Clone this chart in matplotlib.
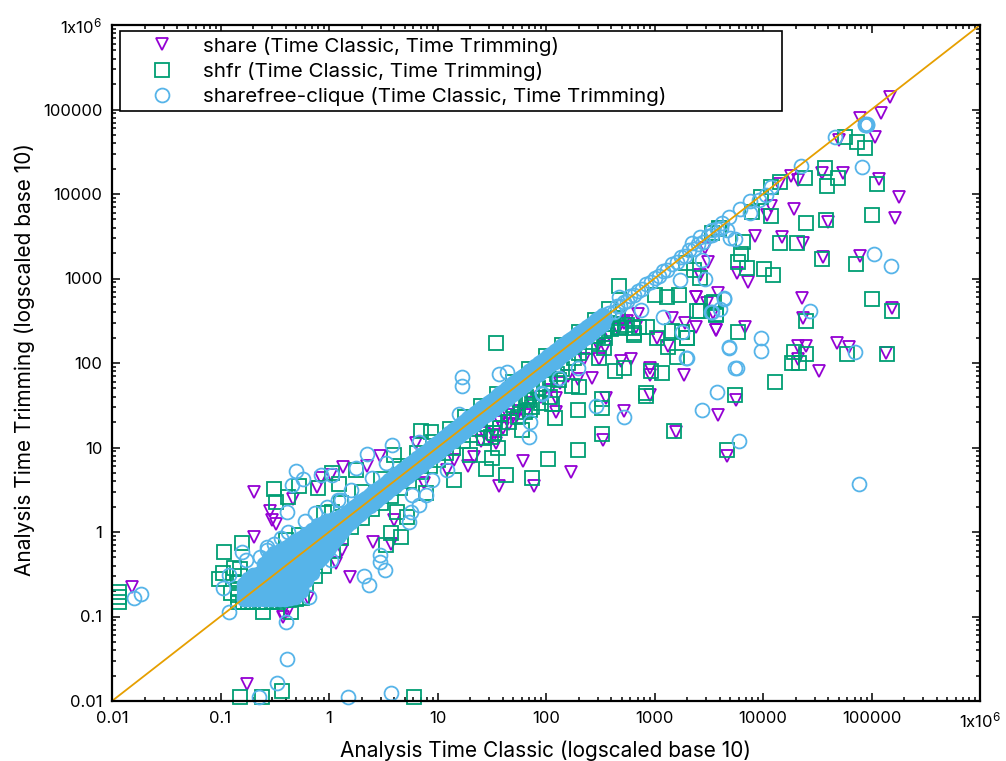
import matplotlib
matplotlib.use('Agg')
import matplotlib.pyplot as plt
from matplotlib.patches import Rectangle
from matplotlib.ticker import LogLocator, NullFormatter

plt.rcParams['font.family'] = ['Inter', 'DejaVu Sans']
plt.rcParams['mathtext.default'] = 'regular'

# Values
tick_values = [0.01, 0.1, 1, 10, 100, 1000, 10000, 100000, 1000000]
tick_labels = ['0.01', '0.1', '1', '10', '100', '1000', '10000', '100000', '1x10$^{6}$']
diagonal = [0.01, 1000000]

share_classic = [
    0.0153, 0.175, 0.204, 0.286, 0.30, 0.325, 0.204, 0.466, 0.775, 0.84, 1.04, 1.35,
    2.24, 2.95, 6.3, 1.56, 1.16, 0.64, 0.37, 2.54, 3.7, 3.97, 7.5, 1.32, 0.38, 0.42,
    36.9, 77.6, 170, 61, 334, 1580, 4630, 3840, 5600, 524, 900, 355, 265, 197, 124, 124,
    900, 900, 1860, 610, 490, 310, 224, 1060, 1340, 2410, 1900, 3660, 2410, 3840, 3070, 3450,
    1450, 520, 680, 350, 34.6, 29.7, 44.8, 21.6, 19, 12.2, 14.2, 40, 52, 25,
    148000, 122000, 78000, 108000, 50000, 34800, 55000, 21000, 18000, 13900, 117000, 181000,
    165000, 39400, 19200, 11800, 10900, 8400, 15100, 23300, 35400, 78000, 5700, 7300, 3100, 2950,
    2600, 2400, 23000, 155000, 23300, 6800, 3650, 48000, 62000, 21000, 25000, 21000, 33000, 135000,
    27, 33, 38, 46, 55, 64, 75, 90, 110, 135, 160, 300, 380, 460, 560, 700,
]
share_trimming = [
    0.224, 0.016, 2.97, 1.77, 1.39, 1.24, 0.87, 2.46, 3.4, 4.35, 4.7, 5.9,
    6.0, 7.9, 11.3, 0.29, 0.43, 0.165, 0.11, 0.76, 0.72, 1.39, 3.8, 0.61, 0.1, 0.115,
    3.5, 3.5, 5.1, 6.9, 12.3, 15.3, 8, 24, 36.6, 27, 41.8, 38.6, 66, 65, 38.6, 26,
    87.4, 72, 72, 112, 105, 112, 112, 200, 160, 267, 297, 245, 600, 670, 510, 390,
    340, 297, 267, 155, 11.3, 13.3, 24, 7.7, 6, 5.4, 7.1, 17, 22, 12,
    140000, 91000, 79000, 47000, 43700, 17700, 17700, 14700, 16200, 13200, 15000, 9300,
    5200, 4700, 6700, 7250, 5600, 3200, 3100, 2650, 1800, 1850, 1150, 905, 1570, 2300,
    1100, 600, 590, 445, 340, 267, 245, 172, 155, 160, 160, 112, 80, 132,
    15, 14, 20, 19, 27, 24, 34, 40, 48, 58, 70, 165, 220, 250, 310, 380,
]

shfr_classic = [
    0.0116, 0.0116, 0.0116, 0.108, 0.158, 0.097, 0.105, 0.133, 0.125, 0.247, 0.446, 0.151,
    0.24, 0.37, 6.1, 0.31, 0.325, 0.42, 0.53, 0.79, 1.24, 1.06, 1.77, 3.97, 7, 8.7,
    0.40, 0.53, 7.8, 4.2, 3.7, 3.35, 4.6, 5.2, 1.06,
    34.6, 14.2, 28, 42.7, 74, 104, 197, 325, 1520, 4630, 5540, 830,
    830, 325, 325, 197, 121, 114, 71, 70, 200, 172, 132, 430, 520, 925, 1170, 310,
    1610, 1340, 1060, 2000, 1450, 650, 650, 490, 860, 340, 350, 2600, 3660, 3500, 1670, 1000,
    1300, 470, 31, 60, 36, 20, 32,
    57000, 74000, 88000, 37000, 24600, 49000, 39000, 113000, 14300, 11800, 9500, 7900,
    11800, 25000, 38000, 100000, 6500, 14300, 20500, 34800, 72000, 6300, 5900, 7100, 10200, 12300,
    3400, 3900, 3950, 1950, 2300, 2600, 100000, 155000, 2450, 3400, 3650, 1790, 2000, 5900, 25000,
    19200, 24700, 18500, 21300, 59000, 140000, 13000,
]
shfr_trimming = [
    0.195, 0.17, 0.148, 0.58, 0.74, 0.278, 0.33, 0.375, 0.19, 0.113, 0.113, 0.0112,
    0.0112, 0.0132, 0.0112, 3.2, 2.26, 2.6, 3.5, 3.3, 3.7, 5, 5.4, 8.2, 15.7, 15.3,
    0.8, 0.92, 2.9, 1.73, 0.97, 0.7, 0.87, 1.5, 1.73,
    172, 4.1, 5.6, 4.7, 4.35, 7.3, 9.3, 14.5, 15.7, 9.3, 41.8, 40.7,
    44, 29.3, 37.6, 28, 22.3, 32.7, 28, 36.6, 52, 53, 63, 80, 87, 80, 76, 115,
    118, 155, 198, 198, 240, 228, 216, 262, 267, 150, 200, 410, 370, 530, 630, 640,
    600, 820, 13.3, 16, 10, 8.2, 7.5,
    47000, 41000, 35000, 20300, 15500, 15500, 12500, 13200, 13900, 12000, 9300, 6200,
    5500, 4500, 4900, 5700, 2700, 2650, 2650, 1700, 1480, 1950, 1570, 1320, 1300, 1100,
    3480, 4000, 3900, 1530, 1250, 1020, 570, 410, 410, 510, 380, 233, 198, 233, 315,
    135, 128, 100, 100, 128, 128, 59,
]

# the green edge showing around the dense part
shfr_band_classic = [
    0.145, 0.16, 0.18, 0.2, 0.23, 0.26, 0.3, 0.34, 0.38, 0.43, 0.5, 0.56, 0.145, 0.145, 0.145, 0.15, 0.15,
    0.62, 0.75, 0.9, 1.1, 1.3, 1.6, 2, 2.5, 3, 3.7, 4.5, 5.5, 7, 8.5, 10, 12, 14, 17, 20, 24, 28, 33, 38,
    44, 50, 57, 65, 75, 85, 95, 110, 125, 140, 160, 180, 200, 230, 260, 300, 340, 400, 460,
    0.9, 1.3, 2, 3, 4.5, 6.5, 9, 13, 18, 25, 35, 50, 70, 100, 140, 200, 280, 380,
    27, 33, 38, 46, 55, 64, 75, 90, 110, 280, 340, 400, 480, 560, 640, 720,
]
shfr_band_trimming = [
    0.15, 0.15, 0.15, 0.15, 0.15, 0.15, 0.15, 0.15, 0.155, 0.155, 0.16, 0.165, 0.18, 0.21, 0.25, 0.3, 0.36,
    0.24, 0.3, 0.4, 0.6, 0.85, 1.15, 1.45, 1.85, 2.2, 2.7, 3.3, 4, 5.1, 6.1, 7.2, 8.6, 10, 12, 14, 16.5, 19, 22, 25,
    29, 32, 36, 40, 46, 50, 56, 64, 75, 85, 100, 115, 130, 155, 175, 210, 240, 290, 340,
    1.7, 2.2, 3, 4.2, 6, 8.5, 11.5, 16.5, 23, 31, 43, 60, 85, 120, 165, 235, 320, 430,
    13, 15, 17, 20, 23, 26, 30, 34, 40, 210, 240, 250, 265, 280, 260, 270,
]

clique_classic = [
    0.016, 0.0185, 0.12, 0.41, 0.40, 0.33, 0.226, 1.5, 3.7, 2.1, 2.34, 2.95, 2.95, 3.3, 1.04, 0.65,
    0.5, 0.575, 0.455, 0.41, 0.84, 1.06, 1.77, 2.24, 3.8, 3.35, 1.29, 6.8, 0.158, 0.172, 0.12, 0.105,
    0.268, 5.8, 6.8, 5.7, 5.5, 7.8, 8.9,
    16.8, 16.8, 36.9, 43.7, 197, 132, 92, 92, 71, 70, 290, 524, 2000, 1200, 750, 1790, 3390, 4340,
    4860, 5540, 3750, 2740, 6020, 12.2, 15.8, 470,
    88000, 90000, 89000, 91000, 87000, 46000, 22300, 81700, 11800, 10600, 7600, 9100, 6200, 7600,
    4900, 4200, 4650, 5500, 5000, 3400, 2600, 2200, 2750, 2900, 1700, 105000, 150000, 4340, 4000,
    3300, 27000, 9500, 9500, 4860, 5700, 70500, 1950, 76700,
    350, 380, 420, 450, 480, 520, 560, 600, 650, 700, 770, 840, 920, 1000, 1100, 1200, 1300, 1450,
    1600, 1750, 1900, 2100, 2300, 2500, 2800, 3100, 3400, 3800, 4100,
    0.23, 0.27, 0.31, 0.36, 0.42, 0.6, 0.75, 0.95, 1.2, 1.6, 2.5,
]
clique_trimming = [
    0.166, 0.185, 0.113, 0.031, 0.086, 0.0163, 0.0112, 0.0112, 0.0124, 0.30, 0.236, 0.535, 0.44, 0.355, 0.47, 0.17,
    5.27, 4.24, 3.6, 1.73, 4.7, 4.7, 5.7, 8.4, 10.7, 6.6, 2.4, 11.6, 0.58, 0.47, 0.31, 0.22,
    0.66, 2.75, 2.09, 1.73, 1.31, 2.75, 4.1,
    68, 53, 74, 78, 87, 66, 43, 44, 20, 13.3, 31, 23, 114, 350, 424, 233, 402, 590,
    150, 87, 45, 28, 12, 5.4, 25, 600,
    66000, 68000, 65000, 66000, 68000, 47000, 21500, 20900, 12000, 9800, 8300, 8500, 6600, 6000,
    5300, 4500, 3750, 2900, 3000, 3750, 3100, 2600, 1650, 1000, 960, 1950, 1400, 570, 430,
    400, 410, 198, 139, 155, 87, 135, 114, 3.7,
    340, 390, 400, 470, 470, 530, 540, 620, 630, 720, 750, 860, 900, 1020, 1070, 1220, 1270, 1480,
    1550, 1790, 1850, 2150, 2250, 2560, 2720, 3170, 3300, 3900, 4000,
    0.5, 0.62, 0.72, 0.85, 1, 1.35, 1.7, 2, 2.4, 3.1, 4.4,
]

# the solid blue part, a column at a time at the low end
clique_blob_classic = [
    0.165, 0.165, 0.165, 0.165,
    0.18, 0.18, 0.18, 0.18, 0.18,
    0.2, 0.2, 0.2, 0.2, 0.2, 0.2,
    0.22, 0.22, 0.22, 0.22, 0.22, 0.22,
    0.25, 0.25, 0.25, 0.25, 0.25, 0.25, 0.25, 0.25,
    0.28, 0.28, 0.28, 0.28, 0.28, 0.28, 0.28, 0.28, 0.28,
    0.31, 0.31, 0.31, 0.31, 0.31, 0.31, 0.31, 0.31, 0.31, 0.31,
    0.35, 0.35, 0.35, 0.35, 0.35, 0.35, 0.35, 0.35, 0.35, 0.35,
    0.39, 0.39, 0.39, 0.39, 0.39, 0.39, 0.39, 0.39, 0.39, 0.39, 0.39,
    0.44, 0.44, 0.44, 0.44, 0.44, 0.44, 0.44, 0.44, 0.44, 0.44, 0.44,
    0.49, 0.49, 0.49, 0.49, 0.49, 0.49, 0.49, 0.49, 0.49, 0.49, 0.49,
    0.55, 0.55, 0.55, 0.55, 0.55, 0.55, 0.55, 0.55, 0.55, 0.55,
    0.62, 0.62, 0.62, 0.62, 0.62, 0.62, 0.62, 0.62,
    0.7, 0.7, 0.7, 0.7, 0.7, 0.7, 0.7,
]
clique_blob_trimming = [
    0.16, 0.18, 0.21, 0.24,
    0.16, 0.18, 0.21, 0.24, 0.28,
    0.16, 0.18, 0.21, 0.24, 0.28, 0.31,
    0.16, 0.18, 0.21, 0.24, 0.28, 0.32,
    0.16, 0.18, 0.21, 0.24, 0.28, 0.32, 0.37, 0.42,
    0.16, 0.18, 0.21, 0.24, 0.28, 0.32, 0.37, 0.43, 0.49,
    0.16, 0.18, 0.21, 0.24, 0.28, 0.32, 0.37, 0.43, 0.5, 0.56,
    0.16, 0.18, 0.21, 0.24, 0.28, 0.32, 0.37, 0.43, 0.5, 0.6,
    0.16, 0.18, 0.21, 0.24, 0.28, 0.32, 0.37, 0.43, 0.5, 0.57, 0.65,
    0.165, 0.18, 0.21, 0.24, 0.28, 0.32, 0.37, 0.43, 0.5, 0.58, 0.7,
    0.17, 0.19, 0.21, 0.24, 0.28, 0.32, 0.37, 0.43, 0.5, 0.6, 0.78,
    0.2, 0.22, 0.25, 0.29, 0.33, 0.38, 0.44, 0.52, 0.62, 0.85,
    0.27, 0.31, 0.35, 0.41, 0.48, 0.56, 0.68, 0.95,
    0.33, 0.38, 0.45, 0.54, 0.66, 0.8, 1.05,
]

clique_band_classic = [
    0.8, 0.86, 0.92, 0.98, 1.05, 1.12, 1.2, 1.29, 1.38, 1.47,
    1.58, 1.69, 1.81, 1.93, 2.07, 2.2, 2.37, 2.54, 2.71, 2.9,
    3.1, 3.32, 3.56, 3.8, 4.07, 4.36, 4.66, 4.99, 5.34, 5.71,
    6.1, 6.54, 7, 7.5, 8, 8.6, 9.2, 9.8, 10.5, 11.2,
    12, 12.9, 13.8, 14.7, 15.8, 16.9, 18, 19.3, 20.7, 22,
    23.7, 25.4, 27, 29, 31, 33, 35.6, 38, 40.7, 43.6,
    46.6, 50, 53, 57, 61, 65, 70, 75, 80, 86,
    92, 98, 105, 112, 120, 129, 138, 147, 158, 169,
    181, 193, 207, 221, 237, 254, 271, 290, 310, 332,
]
clique_band_upper = [
    1.2, 1.25, 1.3, 1.3, 1.35, 1.4, 1.45, 1.55, 1.6, 1.7,
    1.8, 1.95, 2.1, 2.25, 2.4, 2.55, 2.75, 2.95, 3.1, 3.35,
    3.55, 3.8, 4.1, 4.4, 4.7, 5, 5.4, 5.75, 6.15, 6.6,
    7, 7.5, 8.05, 8.6, 9.2, 9.9, 10.6, 11.3, 12.1, 12.9,
    13.8, 14.8, 15.9, 16.9, 18.2, 19.4, 20.7, 22.2, 23.8, 25.3,
    27.3, 29.2, 31, 33.4, 35.7, 38, 40.9, 43.7, 46.8, 50,
    53.6, 57.5, 61, 65.6, 70, 74.8, 80.5, 86, 92, 99,
    106, 113, 121, 129, 138, 148, 159, 169, 182, 194,
    205, 218, 232, 247, 264, 282, 300, 320, 340, 365,
]
clique_band_lower = [
    0.45, 0.5, 0.56, 0.62, 0.7, 0.78, 0.87, 0.98, 1.08, 1.2,
    1.3, 1.42, 1.55, 1.65, 1.78, 1.9, 2.05, 2.2, 2.35, 2.5,
    2.7, 2.9, 3.1, 3.3, 3.55, 3.8, 4.05, 4.35, 4.65, 4.95,
    5.3, 5.7, 6.1, 6.5, 7, 7.5, 8, 8.5, 9.1, 9.75,
    10.4, 11.2, 12, 12.8, 13.7, 14.7, 15.7, 16.8, 18, 19.1,
    20.6, 22.1, 23.5, 25.2, 27, 28.7, 31, 33, 35.4, 37.9,
    40.5, 43.5, 46, 49.6, 53, 56.5, 61, 65, 69.6, 74.8,
    80, 85, 91, 97, 104, 112, 120, 128, 137, 147,
    157, 167, 179, 191, 205, 220, 234, 250, 267, 286,
]

W, H = 1006, 761
fig = plt.figure(figsize=(W / 100, H / 100), dpi=100)
ax = fig.add_axes([112 / W, 1 - 701 / H, 868 / W, 676 / H])

ax.plot(share_classic, share_trimming, linestyle='none', marker='v', ms=8.5, mfc='none', mec='#9400d3',
        mew=1.3, clip_on=False, label='share (Time Classic, Time Trimming)')
ax.plot(shfr_classic + shfr_band_classic, shfr_trimming + shfr_band_trimming, linestyle='none', marker='s',
        ms=9.8, mfc='none', mec='#009e73', mew=1.3, clip_on=False, label='shfr (Time Classic, Time Trimming)')
ax.plot(clique_classic, clique_trimming, linestyle='none', marker='o', ms=10, mfc='none', mec='#56b4e9',
        mew=1.3, clip_on=False, label='sharefree-clique (Time Classic, Time Trimming)')
# rings so dense here that they read as solid
ax.plot(clique_blob_classic + clique_band_classic * 3,
        clique_blob_trimming + clique_band_upper + clique_band_classic + clique_band_lower,
        linestyle='none', marker='o', ms=10, mfc='#56b4e9', mec='#56b4e9', mew=1.3)
ax.plot(diagonal, diagonal, color='#e69f00', lw=1.3, zorder=5)

ax.set_xscale('log')
ax.set_yscale('log')
ax.set_xlim(0.01, 1000000)
ax.set_ylim(0.01, 1000000)
ax.set_xticks(tick_values, tick_labels)
ax.set_yticks(tick_values, tick_labels)
for axis in (ax.xaxis, ax.yaxis):
    axis.set_minor_locator(LogLocator(base=10, subs=range(2, 10), numticks=20))
    axis.set_minor_formatter(NullFormatter())
ax.tick_params(which='major', direction='in', top=True, right=True, length=6, width=1.1, labelsize=12, pad=7)
ax.tick_params(which='minor', direction='in', top=True, right=True, length=3, width=1.1)
for s in ax.spines.values():
    s.set_linewidth(1.6)
    s.set_zorder(6)

ax.set_xlabel('Analysis Time Classic (logscaled base 10)', fontsize=15, labelpad=7)
ax.set_ylabel('Analysis Time Trimming (logscaled base 10)', fontsize=15, labelpad=6, y=0.505)

ax.add_patch(Rectangle((8 / 868, 1 - 86 / 676), 662 / 868, 80 / 676, transform=ax.transAxes, fc='white',
                       ec='black', lw=1.2, zorder=7))
leg = ax.legend(loc='upper left', bbox_to_anchor=(25.8 / 868, 1 - 7.5 / 676), frameon=False, borderaxespad=0,
                borderpad=0.2, fontsize=14.8, labelspacing=0.3, handletextpad=1.0, handlelength=1.95, numpoints=1)
leg.set_zorder(8)

plt.savefig('out.png', dpi=100)
